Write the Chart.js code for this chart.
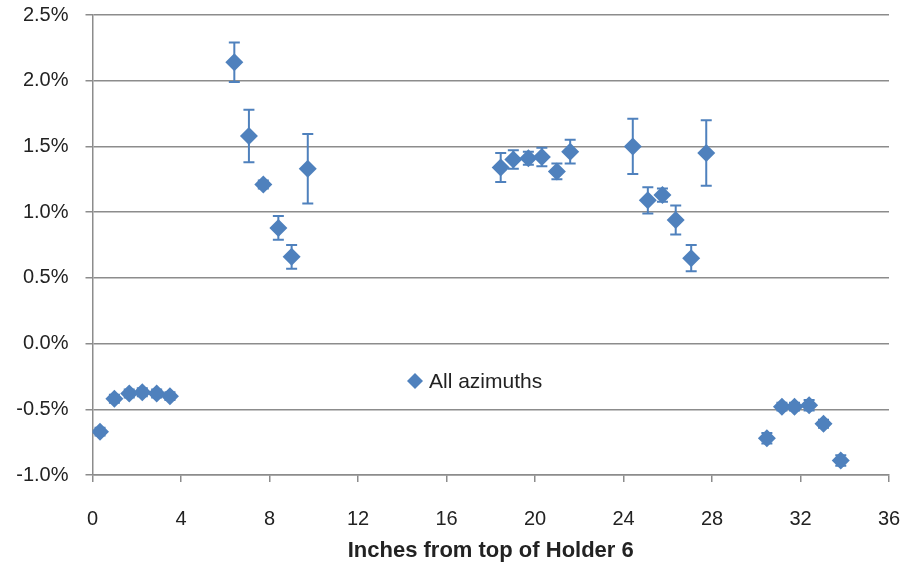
<!DOCTYPE html>
<html>
<head>
<meta charset="utf-8">
<script src="https://cdn.jsdelivr.net/npm/chart.js@4/dist/chart.umd.min.js"></script>
<style>
  body { margin: 0; background: #fff; }
</style>
</head>
<body>
<canvas id="myChart" width="908" height="569"></canvas>
<script>
// inches from top of holder
var inches = [0.34, 0.99, 1.66, 2.25, 2.90, 3.50,
    6.41, 7.07, 7.72, 8.40, 9.00, 9.73,
    18.45, 19.02, 19.70, 20.31, 20.99, 21.59,
    24.42, 25.10, 25.76, 26.36, 27.06, 27.74,
    30.48, 31.16, 31.73, 32.39, 33.04, 33.82]
// percent values
var values = [-0.67, -0.42, -0.38, -0.37, -0.38, -0.40,
    2.14, 1.58, 1.21, 0.88, 0.66, 1.33,
    1.34, 1.40, 1.41, 1.42, 1.31, 1.46,
    1.50, 1.09, 1.13, 0.94, 0.65, 1.45,
    -0.72, -0.48, -0.48, -0.47, -0.61, -0.89]
// error bar half-length, percent
var errors = [0.03, 0.03, 0.03, 0.03, 0.03, 0.03,
    0.15, 0.20, 0.03, 0.09, 0.09, 0.265,
    0.11, 0.07, 0.05, 0.07, 0.06, 0.09,
    0.21, 0.10, 0.05, 0.11, 0.10, 0.25,
    0.04, 0.03, 0.03, 0.04, 0.03, 0.04]
var seriesLabel = 'All azimuths'
var xTitle = 'Inches from top of Holder 6'

var blue = '#4F81BD'
var gray = '#8c8c8c'
var fontFamily = '"Liberation Sans", Arial, sans-serif'

var points = inches.map(function (x, i) {
    return { x: x, y: values[i] }
})

// error bars drawn behind the diamonds
var errorBars = {
    id: 'errorBars',
    beforeDatasetsDraw: function (chart) {
        var ctx = chart.ctx
        var xs = chart.scales.x
        var ys = chart.scales.y
        ctx.save()
        ctx.strokeStyle = blue
        ctx.lineWidth = 2
        for (var i = 0; i < inches.length; i++) {
            var px = xs.getPixelForValue(inches[i])
            var top = ys.getPixelForValue(values[i] + errors[i])
            var bot = ys.getPixelForValue(values[i] - errors[i])
            ctx.beginPath()
            ctx.moveTo(px, top)
            ctx.lineTo(px, bot)
            ctx.moveTo(px - 5.5, top)
            ctx.lineTo(px + 5.5, top)
            ctx.moveTo(px - 5.5, bot)
            ctx.lineTo(px + 5.5, bot)
            ctx.stroke()
        }
        ctx.restore()
    }
}

// legend sits inside the plot area
var innerLegend = {
    id: 'innerLegend',
    afterDraw: function (chart) {
        var ctx = chart.ctx
        var x = 415, y = 381
        ctx.save()
        ctx.fillStyle = blue
        ctx.beginPath()
        ctx.moveTo(x, y - 8)
        ctx.lineTo(x + 8, y)
        ctx.lineTo(x, y + 8)
        ctx.lineTo(x - 8, y)
        ctx.closePath()
        ctx.fill()
        ctx.fillStyle = '#222'
        ctx.font = '21px ' + fontFamily
        ctx.textBaseline = 'middle'
        ctx.fillText(chart.data.datasets[0].label, x + 14, y + 1)
        ctx.restore()
    }
}

var myChart = new Chart(document.getElementById('myChart'), {
    type: 'scatter',
    data: {
        datasets: [{
            label: seriesLabel,
            data: points,
            pointStyle: 'rectRot',
            pointRadius: 9,
            pointBackgroundColor: blue,
            pointBorderColor: blue,
            pointBorderWidth: 0
        }]
    },
    options: {
        responsive: false,
        animation: false,
        layout: { padding: { top: 15, right: 19, left: 0, bottom: 0 } },
        plugins: {
            legend: { display: false },
            tooltip: { enabled: false }
        },
        scales: {
            x: {
                type: 'linear',
                min: 0,
                max: 36,
                ticks: {
                    stepSize: 4,
                    color: '#222',
                    font: { family: fontFamily, size: 20 },
                    padding: 25,
                    maxRotation: 0
                },
                grid: {
                    drawOnChartArea: false,
                    tickLength: 7,
                    tickColor: gray,
                    lineWidth: 1.5
                },
                border: { color: gray, width: 1.5 },
                title: {
                    display: true,
                    text: xTitle,
                    color: '#222',
                    font: { family: fontFamily, size: 22, weight: 'bold' },
                    padding: { top: 0, bottom: 5 }
                },
                afterFit: function (s) {
                    s.height = 94
                    s.paddingLeft = 0
                    s.paddingRight = 0
                }
            },
            y: {
                min: -1,
                max: 2.5,
                ticks: {
                    stepSize: 0.5,
                    color: '#222',
                    font: { family: fontFamily, size: 20 },
                    padding: 17,
                    callback: function (v) { return v.toFixed(1) + '%' }
                },
                grid: {
                    color: gray,
                    tickColor: gray,
                    lineWidth: 1.5,
                    tickLength: 7
                },
                border: { color: gray, width: 1.5 },
                afterFit: function (s) {
                    s.width = 92.5
                    s.paddingTop = 0
                    s.paddingBottom = 0
                }
            }
        }
    },
    plugins: [errorBars, innerLegend]
})
</script>
</body>
</html>
